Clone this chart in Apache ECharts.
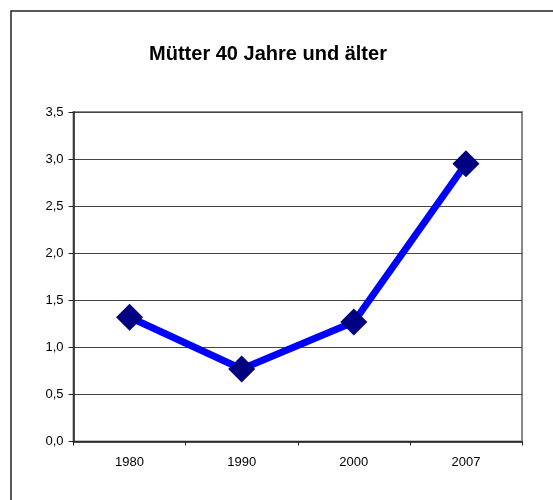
<!DOCTYPE html>
<html>
<head>
<meta charset="utf-8">
<script src="https://cdn.jsdelivr.net/npm/echarts@6/dist/echarts.min.js"></script>
<style>
  html, body { margin: 0; padding: 0; background: #fff; }
  #chart { width: 553px; height: 500px; }
</style>
</head>
<body>
<div id="chart"></div>
<script>
const years = ['1980', '1990', '2000', '2007'];
const values = [1.32, 0.77, 1.27, 2.95];
const yTicks = { min: 0, max: 3.5, interval: 0.5 };

const chart = echarts.init(document.getElementById('chart'));

const option = {
  backgroundColor: '#fff',
  animation: false,
  title: {
    text: 'Mütter 40 Jahre und älter',
    left: 263,
    top: 39,
    textAlign: 'center',
    textStyle: {
      fontFamily: 'Liberation Sans, Arial',
      fontWeight: 'bold',
      fontSize: 20,
      color: '#000'
    }
  },
  graphic: [{
    type: 'rect',
    shape: { x: 11, y: 11, width: 700, height: 700 },
    style: { fill: 'none', stroke: '#222', lineWidth: 1.5 },
    silent: true
  }],
  grid: {
    left: 73.5,
    right: 31,
    top: 112,
    bottom: 58.5,
    show: true,
    borderColor: '#888',
    borderWidth: 2,
    backgroundColor: '#fff'
  },
  xAxis: {
    type: 'category',
    data: years,
    boundaryGap: true,
    axisLine: { lineStyle: { color: '#222', width: 1.5 } },
    axisTick: { show: true, length: 4, lineStyle: { color: '#222' } },
    axisLabel: {
      color: '#000',
      fontFamily: 'Liberation Sans, Arial',
      fontSize: 13,
      margin: 14
    }
  },
  yAxis: {
    type: 'value',
    min: yTicks.min,
    max: yTicks.max,
    interval: yTicks.interval,
    axisLine: { show: true, lineStyle: { color: '#222', width: 1.5 } },
    axisTick: { show: true, length: 5, lineStyle: { color: '#222' } },
    axisLabel: {
      color: '#000',
      fontFamily: 'Liberation Sans, Arial',
      fontSize: 13,
      margin: 10,
      formatter: v => v.toFixed(1).replace('.', ',')
    },
    splitLine: { lineStyle: { color: '#444', width: 1 } }
  },
  series: [{
    type: 'line',
    data: values,
    symbol: 'diamond',
    symbolSize: 27,
    lineStyle: { color: '#0000ff', width: 7 },
    itemStyle: { color: '#000080' }
  }]
};

chart.setOption(option);
</script>
</body>
</html>
